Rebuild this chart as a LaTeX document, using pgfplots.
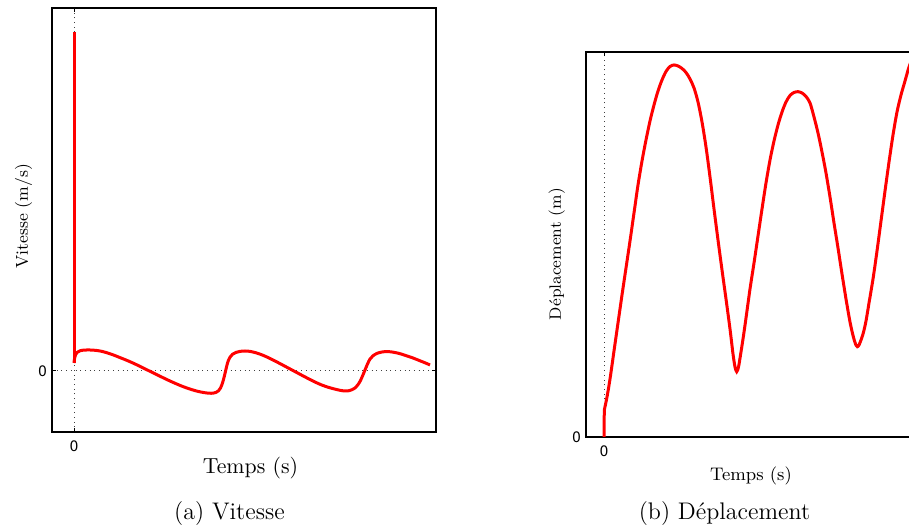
\documentclass[border=0pt]{standalone}
\usepackage{fontspec}
\usepackage{pgfplots}
\pgfplotsset{compat=1.18}
\newfontfamily\hv{TeX Gyre Heros}
\begin{document}
\begin{tikzpicture}
\useasboundingbox (0,0) rectangle (454.5pt,264pt);
\pgfplotsset{
  myax/.style={
    scale only axis,
    axis line style={black, line width=0.8pt},
    tick style={black, line width=0.5pt},
    major tick length=1.8pt,
    tick align=inside,
    grid=major,
    major grid style={black!75, line width=0.5pt, dash pattern=on 0.5pt off 1.85pt},
    xtick={0}, ytick={0},
    xticklabels={0}, yticklabels={0},
    tick label style={font=\hv\fontsize{7.6}{9}\selectfont},
    xticklabel style={inner sep=0pt, anchor=north, yshift=-4.3pt},
    yticklabel style={inner sep=0pt, anchor=east, xshift=-2.4pt},
    clip=true,
  }
}
% ---- (a) Vitesse
\begin{axis}[myax,
  at={(26pt,48pt)}, anchor=south west,
  width=192pt, height=212pt,
  xmin=-22, xmax=362, ymin=-61, ymax=363,
  xlabel={Temps (s)},
  ylabel={Vitesse (m/s)},
  xlabel style={font=\fontsize{10.9}{12}\selectfont, at={(axis description cs:0.517,0)}, anchor=base, yshift=-21pt},
  ylabel style={font=\fontsize{8.6}{10}\selectfont, at={(axis description cs:-0.0625,0.509)}, anchor=base},
]
\addplot[red, line width=1.5pt] coordinates {(0,339) (0,8)};
\addplot[red, line width=1.5pt, smooth, tension=0.5] coordinates {
(0,8) (0.5,12) (1.5,16) (3,18.5) (6,20.2) (10,20.9) (16,21) (22,20.6) (28,19.6) (34,17.9) (40,15.8) (46,13.4) (52,11) (58,8.4) (64,5.6) (70,2.6) (76,-0.3) (82,-3.3) (88,-6.2) (94,-9.1) (100,-11.8) (106,-14.4) (112,-16.7) (118,-18.7) (124,-20.4) (130,-21.6) (135,-22.2) (139,-22.2) (142,-21.4) (144.5,-19.8) (146.5,-17) (148,-13.5) (149.5,-8.5) (151,-2.5) (152.5,4) (154,9.5) (156,13.8) (158.5,16.7) (162,18.6) (166,19.6) (171,20) (176,19.6) (182,18.2) (188,16.1) (194,13.5) (200,10.5) (206,7.4) (212,4.2) (218,1) (224,-2.2) (230,-5.4) (236,-8.5) (242,-11.5) (248,-14.1) (254,-16.2) (260,-17.9) (266,-19.3) (271,-20) (275,-19.7) (278,-18.7) (281,-17) (283.5,-14.3) (286,-10.5) (288.5,-5) (291,1) (293.5,7) (296,12) (299,15.2) (303,17.6) (308,19) (313,19.4) (318,19) (325,17.6) (332,15.4) (339,13) (346,10.2) (352,7.8) (356,6)
};
\end{axis}
% ---- (b) Deplacement
\begin{axis}[myax,
  at={(293pt,45.5pt)}, anchor=south west,
  width=165pt, height=192.5pt,
  xmin=-18, xmax=312, ymin=0, ymax=385,
  xlabel={Temps (s)},
  ylabel={Déplacement (m)},
  xlabel style={font=\fontsize{9.1}{11}\selectfont, at={(axis description cs:0.5,0)}, anchor=base, yshift=-22pt},
  ylabel style={font=\fontsize{8.2}{10}\selectfont, at={(axis description cs:-0.0758,0.475)}, anchor=base},
]
\addplot[red, line width=1.5pt] coordinates {(0,0) (0.3,27)};
\addplot[red, line width=1.5pt, smooth, tension=0.5] coordinates {
(0.3,27) (3,40) (6,58) (10,86) (14,114) (18,142) (22,169) (26,196) (30,224) (34,252) (38,276) (42,297) (46,316) (50,332) (54,346) (58,357) (62,365.5) (66,370.5) (70,372) (74,371) (78,368.5) (82,364.5) (86,358) (90,349) (94,335) (98,315) (102,290) (106,260) (110,228) (114,197) (118,167) (122,138) (126,108) (129,83) (131,70) (132.7,65.3) (134.5,70) (136.5,82) (139,98) (142,119) (146,148) (150,174) (154,201) (158,228) (162,254) (166,277) (170,296) (174,312) (178,325) (182,335) (186,341.5) (190,344.5) (194,345.3) (198,344) (202,340.5) (206,334) (210,320) (214,304) (218,285) (222,264) (226,240) (230,214) (234,189) (238,163) (242,138) (246,115) (249.3,100.3) (251.5,93) (253.3,90.3) (255,92) (257,97) (259.3,104) (262,116) (265,134) (269,158) (273,186) (277,216) (281,246) (285,275) (289,302) (293,325) (297,342) (301,356) (305,370) (309,380) (313,386)
};
\end{axis}
\node[anchor=base, font=\fontsize{12}{14}\selectfont] at (114.75pt,4pt) {(a) Vitesse};
\node[anchor=base, font=\fontsize{12}{14}\selectfont] at (362.25pt,4pt) {(b) Déplacement};
\end{tikzpicture}
\end{document}
